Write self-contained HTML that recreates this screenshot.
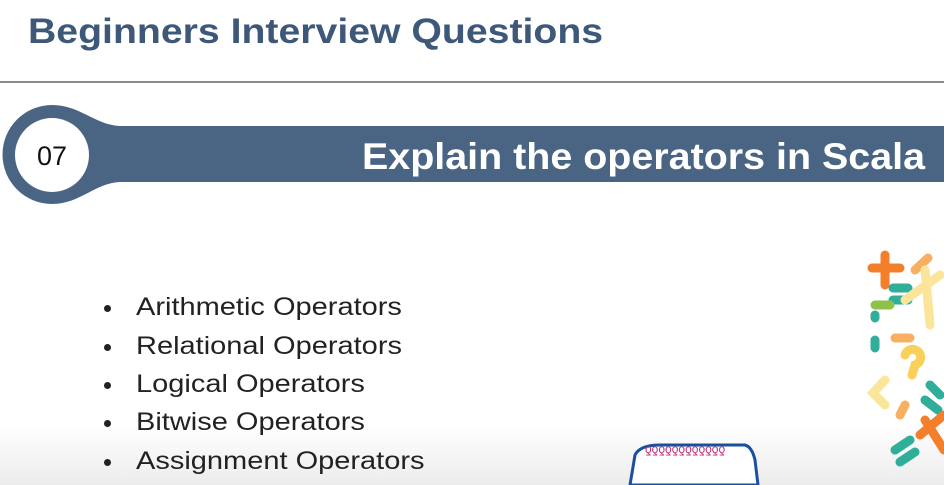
<!DOCTYPE html>
<html><head><style>
body{margin:0;width:944px;height:485px;overflow:hidden;background:#fff;font-family:"Liberation Sans",sans-serif;position:relative}
.t{position:absolute;left:28px;top:12px;font-size:35px;font-weight:bold;color:#3d5878;transform-origin:0 0;transform:scaleX(1.12);white-space:nowrap}
.hr{position:absolute;left:0;top:81px;width:944px;height:2px;background:#8a8a8a}
.li{position:absolute;left:136px;font-size:25px;color:#222;transform-origin:0 0;transform:scaleX(1.16);white-space:nowrap}
.d{position:absolute;left:104px;width:7px;height:7px;border-radius:50%;background:#222}
.fade{position:absolute;left:0;top:425px;width:944px;height:60px;background:linear-gradient(#fff,#ececec)}
</style></head><body>
<div class="fade"></div>
<div class="t">Beginners Interview Questions</div>
<div class="hr"></div>
<svg style="position:absolute;left:0;top:0" width="944" height="485">
<path d="M52,105 C80,105 95,125 120,126 L944,126 L944,182 L120,182 C95,183 80,204 52,204 A49.5,49.5 0 0 1 52,105 Z" fill="#4a6584"/>
<circle cx="52" cy="155" r="37" fill="#fff"/>
<text x="52" y="165" font-size="27" text-anchor="middle" fill="#111" font-family="Liberation Sans">07</text>
<text x="362" y="169" font-size="37" font-weight="bold" textLength="563" lengthAdjust="spacingAndGlyphs" fill="#fff" font-family="Liberation Sans">Explain the operators in Scala</text>
<g stroke-linecap="round" stroke-width="9" fill="none">
<path d="M872,268 H900 M885,255 V285" stroke="#f47f2a"/>
<path d="M893,288 H908 M893,300 H908" stroke="#2fae9a"/>
<path d="M915,270 L928,258" stroke="#f7b062"/>
<path d="M905,300 L940,275 M925,270 L930,325" stroke="#fbe59a"/>
<path d="M875,305 H890" stroke="#8cc24a"/>
<path d="M895,338 H910" stroke="#f7b062"/>
<path d="M885,380 L873,393 L885,405" stroke="#fbe59a"/>
<path d="M905,355 A8,8 0 1 1 915,365 L912,375" stroke="#f9d05a"/>
<path d="M930,385 L940,395 M925,400 L938,410" stroke="#2fae9a"/>
<path d="M900,415 L905,405" stroke="#f7b062"/>
<path d="M920,435 L944,415 M925,420 L944,450" stroke="#f47f2a"/>
<path d="M895,450 L910,440 M900,462 L915,452" stroke="#2fae9a"/>
<path d="M875,340 V348 M875,315 V318" stroke="#2fae9a"/>
</g>
<path d="M635,455 Q640,445 660,445 L745,445 Q752,447 755,460 L758,485 L630,485 Z" fill="#fff" stroke="#1a4fa0" stroke-width="3"/>
<text x="645" y="453" font-size="12" fill="#c0307a" font-family="Liberation Sans">ƍƍƍƍƍƍƍƍƍƍƍƍ</text>
</svg>
<div class="d" style="top:305px"></div><div class="li" style="top:293px">Arithmetic Operators</div>
<div class="d" style="top:344px"></div><div class="li" style="top:332px">Relational Operators</div>
<div class="d" style="top:382px"></div><div class="li" style="top:370px">Logical Operators</div>
<div class="d" style="top:420px"></div><div class="li" style="top:408px">Bitwise Operators</div>
<div class="d" style="top:459px"></div><div class="li" style="top:447px">Assignment Operators</div>
</body></html>
